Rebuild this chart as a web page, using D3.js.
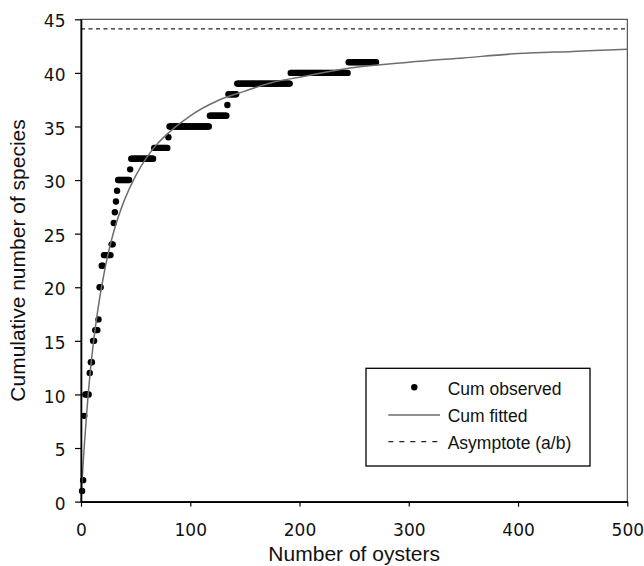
<!DOCTYPE html>
<html>
<head>
<meta charset="utf-8">
<script src="https://cdn.jsdelivr.net/npm/d3@7"></script>
<style>
  body { margin: 0; background: #fff; }
  svg { display: block; }
</style>
</head>
<body>
<script>
'use strict';

var width = 644;
var height = 566;

// observed cumulative species: one run per level (first and last oyster)
var obsLevel = [1, 2, 8, 10, 12, 13, 15, 16, 17, 20, 22, 23, 24, 26, 27, 28, 29, 30, 31, 32, 33, 34, 35, 36, 37, 38, 39, 40, 41];
var obsFirst = [1, 2, 3, 4, 8, 9, 11, 13, 16, 17, 19, 21, 28, 30, 31, 32, 33, 34, 45, 46, 67, 80, 81, 118, 134, 135, 143, 192, 245];
var obsLast  = [1, 2, 3, 7, 8, 10, 12, 15, 16, 18, 20, 27, 29, 30, 31, 32, 33, 44, 45, 66, 79, 80, 117, 133, 134, 142, 191, 244, 270];

// fitted curve
var fitN = [0, 1, 2, 3, 5, 7, 10, 15, 20, 25, 30, 40, 50, 60, 70, 80, 100, 125, 150, 175, 200, 250, 300, 350, 400, 450, 500];
var fitS = [0, 1.9, 3.6, 5.2, 8.0, 10.5, 13.6, 17.6, 20.7, 23.2, 25.2, 28.2, 30.4, 32.1, 33.4, 34.4, 36.0, 37.4, 38.3, 39.1, 39.6, 40.5, 41.0, 41.4, 41.8, 42.0, 42.2];

var asymptote = 44.1;

var xTicks = [0, 100, 200, 300, 400, 500];
var yTicks = [0, 5, 10, 15, 20, 25, 30, 35, 40, 45];
var legendLabels = ['Cum observed', 'Cum fitted', 'Asymptote (a/b)'];

var svg = d3.select('body').append('svg')
  .attr('width', width)
  .attr('height', height);

var x = d3.scaleLinear().domain([0, 500]).range([81, 627.3]);
var y = d3.scaleLinear().domain([0, 45]).range([501.6, 19.3]);

// frame (top + right)
svg.append('rect')
  .attr('x', x(0)).attr('y', y(45))
  .attr('width', x(500) - x(0)).attr('height', y(0) - y(45))
  .attr('fill', 'none').attr('stroke', '#333').attr('stroke-width', 1);

// asymptote
svg.append('line')
  .attr('x1', x(0)).attr('x2', x(500))
  .attr('y1', y(asymptote)).attr('y2', y(asymptote))
  .attr('stroke', '#222').attr('stroke-width', 1.2)
  .attr('stroke-dasharray', '4,3.5');

// observed points
var obs = [];
obsLevel.forEach(function (s, i) {
  for (var n = obsFirst[i]; n <= obsLast[i]; n++) {
    obs.push({ n: n, s: s });
  }
});

svg.append('g').selectAll('circle')
  .data(obs).enter().append('circle')
  .attr('cx', function (d) { return x(d.n); })
  .attr('cy', function (d) { return y(d.s); })
  .attr('r', 3.2)
  .attr('fill', '#000');

// fitted curve
var fit = fitN.map(function (n, i) { return [n, fitS[i]]; });
svg.append('path')
  .datum(fit)
  .attr('fill', 'none')
  .attr('stroke', '#6e6e6e')
  .attr('stroke-width', 1.5)
  .attr('d', d3.line()
    .x(function (d) { return x(d[0]); })
    .y(function (d) { return y(d[1]); })
    .curve(d3.curveMonotoneX));

// axes
var xAxis = svg.append('g')
  .attr('transform', 'translate(0,' + y(0) + ')')
  .call(d3.axisBottom(x).tickValues(xTicks).tickSize(5).tickSizeOuter(0).tickPadding(17));

var yAxis = svg.append('g')
  .attr('transform', 'translate(' + x(0) + ',0)')
  .call(d3.axisLeft(y).tickValues(yTicks).tickSize(6).tickSizeOuter(0).tickPadding(9.5));

[xAxis, yAxis].forEach(function (g) {
  g.select('.domain').attr('stroke', '#000').attr('stroke-width', 1.6);
  g.selectAll('.tick line').attr('stroke', '#000').attr('stroke-width', 1.2);
  g.selectAll('.tick text')
    .attr('fill', '#111')
    .style('font-family', '"DejaVu Sans", Verdana, sans-serif')
    .style('font-size', '17px');
});
yAxis.selectAll('.tick text').attr('dy', '0.45em');

// axis titles
svg.append('text')
  .attr('x', (x(0) + x(500)) / 2).attr('y', 561)
  .attr('text-anchor', 'middle')
  .style('font-family', '"Liberation Sans", Arial, sans-serif')
  .style('font-size', '21px')
  .attr('fill', '#111')
  .text('Number of oysters');

svg.append('text')
  .attr('transform', 'translate(25,' + (y(0) + y(45)) / 2 + ') rotate(-90)')
  .attr('text-anchor', 'middle')
  .style('font-family', '"Liberation Sans", Arial, sans-serif')
  .style('font-size', '21px')
  .attr('fill', '#111')
  .text('Cumulative number of species');

// legend
var legend = svg.append('g');
legend.append('rect')
  .attr('x', 366).attr('y', 368.3)
  .attr('width', 224).attr('height', 97.7)
  .attr('fill', '#fff').attr('stroke', '#000').attr('stroke-width', 1.3);

legend.append('circle')
  .attr('cx', 414.3).attr('cy', 387.3).attr('r', 3.2).attr('fill', '#000');
legend.append('line')
  .attr('x1', 388.3).attr('x2', 440).attr('y1', 415).attr('y2', 415)
  .attr('stroke', '#6e6e6e').attr('stroke-width', 1.5);
legend.append('line')
  .attr('x1', 388.3).attr('x2', 440).attr('y1', 441.7).attr('y2', 441.7)
  .attr('stroke', '#222').attr('stroke-width', 1.2)
  .attr('stroke-dasharray', '5,6');

legend.selectAll('text.lab')
  .data(legendLabels).enter().append('text')
  .attr('class', 'lab')
  .attr('x', 447.7)
  .attr('y', function (d, i) { return 395 + i * 26.8; })
  .style('font-family', '"Liberation Sans", Arial, sans-serif')
  .style('font-size', '17.5px')
  .attr('fill', '#111')
  .text(function (d) { return d; });
</script>
</body>
</html>
